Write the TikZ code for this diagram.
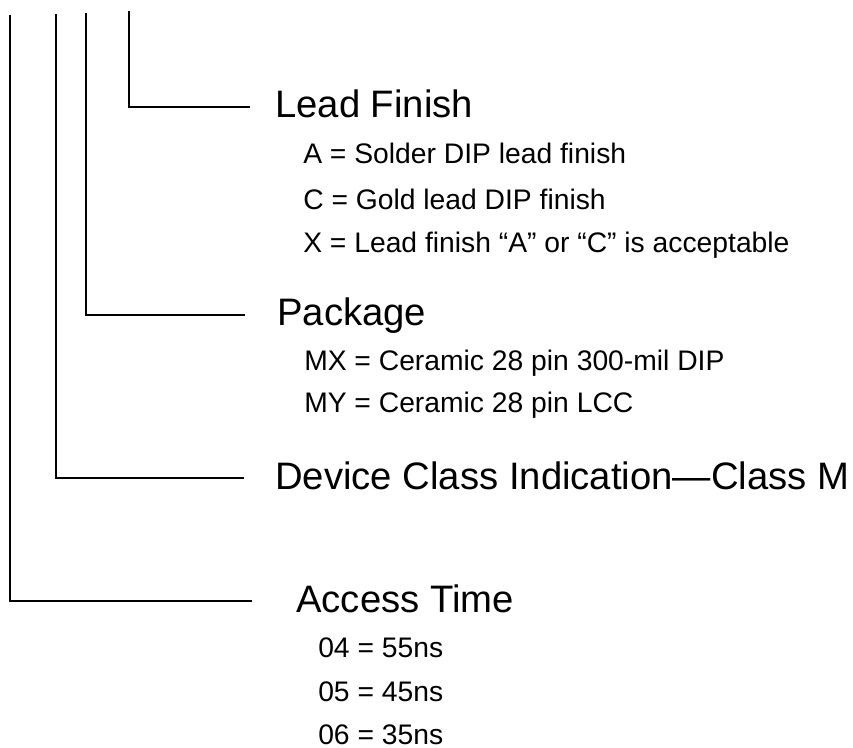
\documentclass[tikz,border=0pt]{standalone}
\usepackage{fontspec}
\setmainfont{Liberation Sans}
\tikzset{
  head/.style={anchor=base west, inner sep=0pt, font=\fontsize{28.7}{34}\selectfont},
  item/.style={anchor=base west, inner sep=0pt, font=\fontsize{21.2}{25}\selectfont},
  lead/.style={line width=1.5pt}
}

\begin{document}
\begin{tikzpicture}[x=0.75pt,y=-0.75pt]
          \useasboundingbox (0,0) rectangle (853,748);

          % lead finish
          \node[head] (fin) at (275,118) {Lead Finish};
          \node[item] (fina) at (303,164) {A = Solder DIP lead finish};
          \node[item] (finc) at (303,210) {C = Gold lead DIP finish};
          \node[item] (finx) at (303,253) {X = Lead finish “A” or “C” is acceptable};
          \coordinate (fintop) at (129,11);
          \coordinate (finbot) at (129,107);
          \coordinate (finend) at (250,107);
          \draw[lead] (fintop) -- (finbot) -- (finend);

          % package
          \node[head] (pkg) at (277,326) {Package};
          \node[item] (pkgx) at (304,371) {MX = Ceramic 28 pin 300-mil DIP};
          \node[item] (pkgy) at (304,412) {MY = Ceramic 28 pin LCC};
          \coordinate (pkgtop) at (86,13);
          \coordinate (pkgbot) at (86,315);
          \coordinate (pkgend) at (245,315);
          \draw[lead] (pkgtop) -- (pkgbot) -- (pkgend);

          % device class
          \node[head] (cls) at (275,489) {Device Class Indication—Class M};
          \coordinate (clstop) at (56,14);
          \coordinate (clsbot) at (56,478);
          \coordinate (clsend) at (244,478);
          \draw[lead] (clstop) -- (clsbot) -- (clsend);

          % access time
          \node[head] (acc) at (296,612) {Access Time};
          \node[item] (acca) at (318,657) {04 = 55ns};
          \node[item] (accb) at (318,701) {05 = 45ns};
          \node[item] (accc) at (318,744) {06 = 35ns};
          \coordinate (acctop) at (10,15);
          \coordinate (accbot) at (10,601);
          \coordinate (accend) at (252,601);
          \draw[lead] (acctop) -- (accbot) -- (accend);
        \end{tikzpicture}
\end{document}
